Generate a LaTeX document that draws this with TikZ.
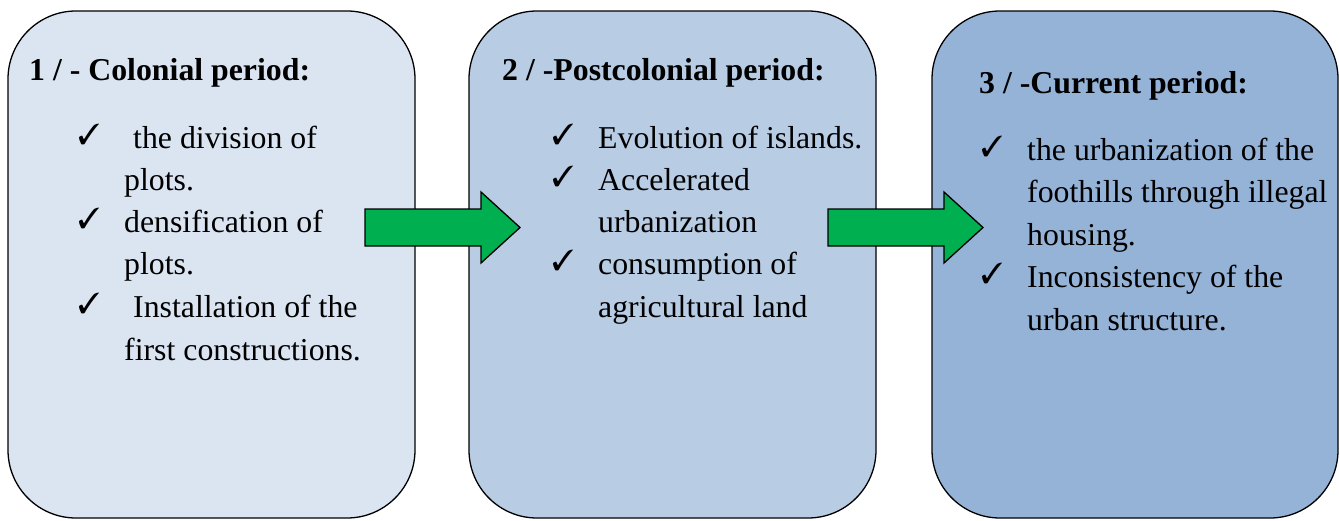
\documentclass[tikz,border=0pt]{standalone}
\usepackage{fontspec}
\setmainfont{Liberation Serif}
\usepackage{pifont}
\definecolor{boxA}{HTML}{DBE5F1}
\definecolor{boxB}{HTML}{B8CCE4}
\definecolor{boxC}{HTML}{95B3D7}
\definecolor{arrowgreen}{HTML}{00B050}
\tikzset{
  periodbox/.style={draw=black, line width=1.3pt, rounded corners=68pt},
  blockarrow/.style={draw=black, line width=1.3pt, fill=arrowgreen, line join=miter},
  titletext/.style={anchor=base west, inner sep=0pt, font=\fontsize{31.8pt}{42pt}\selectfont\bfseries},
  itemtext/.style={anchor=base west, inner sep=0pt, font=\fontsize{31.8pt}{42pt}\selectfont},
  tick/.style={anchor=center, inner sep=0pt, font=\fontsize{29pt}{29pt}\selectfont}
}
\begin{document}
\begin{tikzpicture}[x=1pt, y=-1pt]
\useasboundingbox (0,0) rectangle (1339,520);
% boxes
\draw[periodbox, fill=boxA] (8,11) rectangle (415,518);
\draw[periodbox, fill=boxB] (469,11) rectangle (876,518);
\draw[periodbox, fill=boxC] (932,11) rectangle (1338,518);
% arrows
\coordinate (a1s) at (365,227.5);
\draw[blockarrow] (365,209) -- (481,209) -- (481,192) -- (520,227.5) -- (481,263) -- (481,246) -- (365,246) -- cycle;
\coordinate (a2s) at (828,227.5);
\draw[blockarrow] (828,209) -- (944,209) -- (944,192) -- (983,227.5) -- (944,263) -- (944,246) -- (828,246) -- cycle;
% box 1
\node[titletext] (t1) at (29,80) {1 / - Colonial period:};
\node[tick] (c11) at (89,134) {\ding{51}};
\node[itemtext] (l11) at (133,148) {the division of};
\node[itemtext] (l12) at (124,190) {plots.};
\node[tick] (c12) at (89,218) {\ding{51}};
\node[itemtext] (l13) at (124,232) {densification of};
\node[itemtext] (l14) at (124,274) {plots.};
\node[tick] (c13) at (89,303) {\ding{51}};
\node[itemtext] (l15) at (133,317) {Installation of the};
\node[itemtext] (l16) at (124,360) {first constructions.};
% box 2
\node[titletext] (t2) at (502,80) {2 / -Postcolonial period:};
\node[tick] (c21) at (563,134) {\ding{51}};
\node[itemtext] (l21) at (598,148) {Evolution of islands.};
\node[tick] (c22) at (563,176) {\ding{51}};
\node[itemtext] (l22) at (598,190) {Accelerated};
\node[itemtext] (l23) at (598,232) {urbanization};
\node[tick] (c23) at (563,260) {\ding{51}};
\node[itemtext] (l24) at (598,274) {consumption of};
\node[itemtext] (l25) at (598,317) {agricultural land};
% box 3
\node[titletext] (t3) at (979,93) {3 / -Current period:};
\node[tick] (c31) at (992,146) {\ding{51}};
\node[itemtext] (l31) at (1027,160) {the urbanization of the};
\node[itemtext] (l32) at (1027,202) {foothills through illegal};
\node[itemtext] (l33) at (1027,245) {housing.};
\node[tick] (c32) at (992,273) {\ding{51}};
\node[itemtext] (l34) at (1027,287) {Inconsistency of the};
\node[itemtext] (l35) at (1027,330) {urban structure.};
\end{tikzpicture}
\end{document}
